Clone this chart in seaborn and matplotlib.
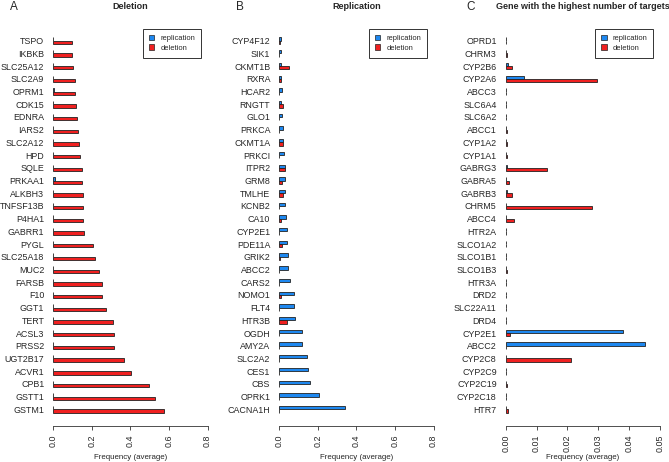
import matplotlib
matplotlib.use("Agg")
import matplotlib.pyplot as plt
import seaborn as sns
import pandas as pd

# panel A: deletion
del_genes = ["TSPO", "IKBKB", "SLC25A12", "SLC2A9", "OPRM1", "CDK15", "EDNRA", "IARS2",
             "SLC2A12", "HPD", "SQLE", "PRKAA1", "ALKBH3", "TNFSF13B", "P4HA1", "GABRR1",
             "PYGL", "SLC25A18", "MUC2", "FARSB", "F10", "GGT1", "TERT", "ACSL3", "PRSS2",
             "UGT2B17", "ACVR1", "CPB1", "GSTT1", "GSTM1"]
del_replication = [0, 0, 0, 0, 0.005, 0, 0, 0, 0, 0, 0, 0.007, 0, 0, 0, 0,
                   0, 0, 0, 0, 0, 0, 0, 0, 0, 0, 0, 0, 0, 0]
del_deletion = [0.098, 0.098, 0.100, 0.110, 0.114, 0.116, 0.124, 0.126, 0.135, 0.138,
                0.147, 0.150, 0.152, 0.154, 0.155, 0.159, 0.204, 0.218, 0.238, 0.252,
                0.252, 0.275, 0.308, 0.314, 0.316, 0.365, 0.404, 0.496, 0.527, 0.572]

# panel B: replication
rep_genes = ["CYP4F12", "SIK1", "CKMT1B", "RXRA", "HCAR2", "RNGTT", "GLO1", "PRKCA",
             "CKMT1A", "PRKCI", "ITPR2", "GRM8", "TMLHE", "KCNB2", "CA10", "CYP2E1",
             "PDE11A", "GRIK2", "ABCC2", "CARS2", "NOMO1", "FLT4", "HTR3B", "OGDH",
             "AMY2A", "SLC2A2", "CES1", "CBS", "OPRK1", "CACNA1H"]
rep_replication = [0.010, 0.010, 0.009, 0.008, 0.014, 0.010, 0.016, 0.017, 0.021, 0.024,
                   0.028, 0.028, 0.028, 0.030, 0.033, 0.038, 0.042, 0.043, 0.047, 0.054,
                   0.074, 0.078, 0.081, 0.116, 0.119, 0.145, 0.147, 0.158, 0.204, 0.343]
rep_deletion = [0.003, 0, 0.048, 0.008, 0, 0.021, 0, 0, 0.021, 0,
                0.028, 0.014, 0.017, 0, 0.010, 0, 0.012, 0.005, 0, 0,
                0.007, 0, 0.042, 0, 0, 0, 0, 0, 0, 0]

# panel C: genes with the highest number of targets
tgt_genes = ["OPRD1", "CHRM3", "CYP2B6", "CYP2A6", "ABCC3", "SLC6A4", "SLC6A2", "ABCC1",
             "CYP1A2", "CYP1A1", "GABRG3", "GABRA5", "GABRB3", "CHRM5", "ABCC4", "HTR2A",
             "SLCO1A2", "SLCO1B1", "SLCO1B3", "HTR3A", "DRD2", "SLC22A11", "DRD4", "CYP2E1",
             "ABCC2", "CYP2C8", "CYP2C9", "CYP2C19", "CYP2C18", "HTR7"]
tgt_replication = [0.0002, 0, 0.0009, 0.0058, 0, 0.0002, 0, 0, 0, 0,
                   0.0005, 0.0002, 0.0005, 0, 0.0002, 0, 0, 0, 0, 0,
                   0, 0, 0.0002, 0.0379, 0.0450, 0, 0, 0, 0, 0]
tgt_deletion = [0, 0.0003, 0.0020, 0.0297, 0, 0, 0, 0.0005, 0.0003, 0.0003,
                0.0133, 0.0010, 0.0022, 0.0279, 0.0026, 0, 0, 0.0002, 0.0003, 0,
                0.0002, 0, 0, 0.0015, 0, 0.0212, 0, 0.0003, 0, 0.0008]

BLUE = "#1E88F0"
RED = "#F02020"

sns.set_style("white")
plt.rcParams["font.family"] = ["Liberation Sans", "DejaVu Sans"]

fig = plt.figure(figsize=(6.69, 4.62), dpi=100)
W, H = 669, 462


def draw_panel(left_px, genes, rep, dele, title, letter, letter_x, xmax, ticks, ticklabels):
    ax = fig.add_axes([left_px / W, 36 / H, 154.3 / W, 397 / H])
    n = len(genes)
    df = pd.DataFrame({"gene": genes * 2,
                       "freq": rep + dele,
                       "type": ["replication"] * n + ["deletion"] * n})
    sns.barplot(data=df, x="freq", y="gene", hue="type",
                hue_order=["replication", "deletion"],
                palette={"replication": BLUE, "deletion": RED}, saturation=1,
                orient="h", width=0.52, errorbar=None,
                edgecolor="#222222", linewidth=0.6, ax=ax)
    for p in ax.patches:
        p.set_clip_on(False)

    ax.set_xlim(0, xmax)
    ax.set_ylim(30.31, -0.92)
    sns.despine(ax=ax, left=True)
    ax.spines["bottom"].set_bounds(0, xmax)
    ax.spines["bottom"].set_linewidth(0.6)
    ax.spines["bottom"].set_color("#333333")

    ax.set_xticks(ticks)
    ax.set_xticklabels(ticklabels, rotation=90)
    ax.tick_params(axis="x", length=3, width=0.6, pad=3, labelsize=6.4,
                   direction="out", bottom=True, color="#333333")
    ax.tick_params(axis="y", length=0, pad=6.5, labelsize=6.4)
    ax.set_ylabel("")
    ax.set_xlabel("Frequency (average)", fontsize=5.7)
    ax.xaxis.set_label_coords(0.5, -0.07)

    ax.set_title(title, fontsize=6.5, fontweight="bold", pad=14.5)
    fig.text(letter_x / W, 1 - 7 / H, letter, fontsize=8.5, ha="left", va="center")

    leg = ax.get_legend()
    handles = leg.legend_handles
    labels = [t.get_text() for t in leg.get_texts()]
    for h in handles:
        h.set_edgecolor("#222222")
        h.set_linewidth(0.5)
    lg = ax.legend(handles, labels, loc="upper right", bbox_to_anchor=(0.957, 1.0),
                   borderaxespad=0, fontsize=5.4, borderpad=0.8, labelspacing=0.3,
                   handlelength=0.7, handleheight=0.7, handletextpad=0.8,
                   fancybox=False, framealpha=1)
    lg.get_frame().set_edgecolor("#333333")
    lg.get_frame().set_linewidth(0.7)
    return ax


draw_panel(53.3, del_genes, del_replication, del_deletion, "Deletion", "A", 10,
           0.8, [0, 0.2, 0.4, 0.6, 0.8], ["0.0", "0.2", "0.4", "0.6", "0.8"])
draw_panel(279.3, rep_genes, rep_replication, rep_deletion, "Replication", "B", 236,
           0.8, [0, 0.2, 0.4, 0.6, 0.8], ["0.0", "0.2", "0.4", "0.6", "0.8"])
draw_panel(505.7, tgt_genes, tgt_replication, tgt_deletion,
           "Gene with the highest number of targets", "C", 466,
           0.05, [0, 0.01, 0.02, 0.03, 0.04, 0.05],
           ["0.00", "0.01", "0.02", "0.03", "0.04", "0.05"])

fig.savefig("out.png", dpi=100)
